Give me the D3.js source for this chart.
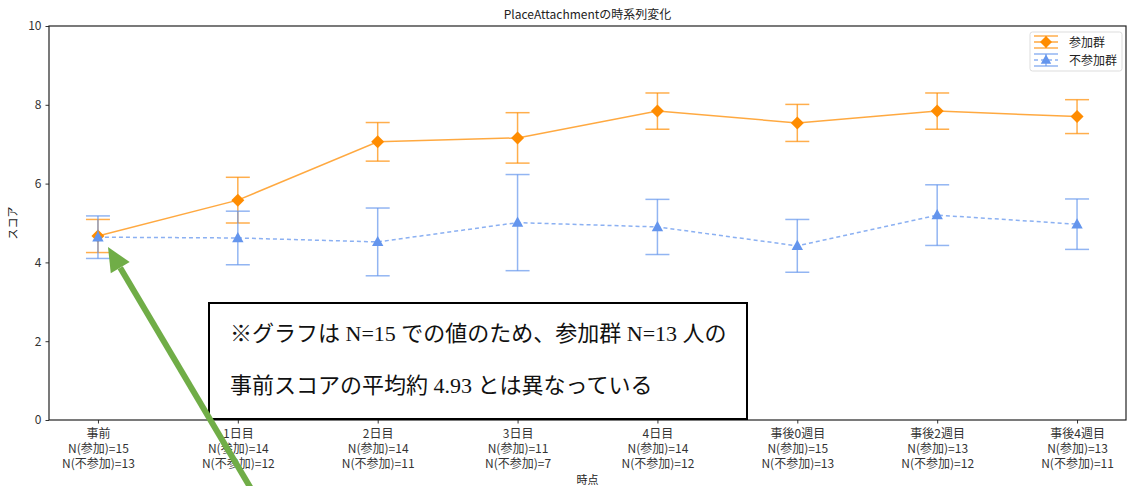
<!DOCTYPE html>
<html>
<head>
<meta charset="utf-8">
<script src="https://cdn.jsdelivr.net/npm/d3@7"></script>
<style>
  html, body { margin: 0; padding: 0; background: #fff; }
  svg { display: block; }
  text { font-family: "Noto Sans CJK JP", "Noto Sans", sans-serif; }
</style>
</head>
<body>
<svg id="chart" width="1127" height="486"></svg>
<script>
// Time points and group sizes shown under each tick
const timepoints = ["事前", "1日目", "2日目", "3日目", "4日目", "事後0週目", "事後2週目", "事後4週目"];
const nJoin = [15, 14, 14, 11, 14, 15, 13, 13];
const nNon  = [13, 12, 11, 7, 12, 13, 12, 11];

// Mean PlaceAttachment score and error (±) per group
const joinMean = [4.67, 5.58, 7.06, 7.16, 7.84, 7.54, 7.84, 7.70];
const joinErr  = [0.42, 0.58, 0.49, 0.64, 0.46, 0.47, 0.46, 0.43];
const nonMean  = [4.64, 4.62, 4.52, 5.01, 4.90, 4.42, 5.20, 4.97];
const nonErr   = [0.54, 0.68, 0.86, 1.22, 0.70, 0.67, 0.77, 0.64];

const yTicks = [0, 2, 4, 6, 8, 10];
const seriesNames = ["参加群", "不参加群"];

const noteLines = [
  "※グラフは N=15 での値のため、参加群 N=13 人の",
  "事前スコアの平均約 4.93 とは異なっている"
];

const svg = d3.select("#chart");
const margin = { left: 49, right: 1126, top: 26, bottom: 420 };

const x = d3.scaleLinear().domain([-0.35, timepoints.length - 1 + 0.35]).range([margin.left, margin.right]);
const y = d3.scaleLinear().domain([0, 10]).range([margin.bottom, margin.top]);

const ORANGE = "#ff8c00";
const BLUE = "#6495ed";

// Title
svg.append("text")
  .attr("x", (margin.left + margin.right) / 2).attr("y", 19)
  .attr("text-anchor", "middle").attr("font-size", 12).attr("fill", "#222")
  .text("PlaceAttachmentの時系列変化");

// Y axis
const yAxis = d3.axisLeft(y).tickValues(yTicks).tickSize(3.5).tickPadding(4).tickFormat(d3.format("d"));
const gy = svg.append("g").attr("transform", `translate(${margin.left},0)`).call(yAxis);
gy.select(".domain").remove();
gy.selectAll("text").attr("font-size", 12).attr("fill", "#333");
gy.selectAll("line").attr("stroke", "#333");

// X axis with multi-line tick labels
const xAxis = d3.axisBottom(x).tickValues(d3.range(timepoints.length)).tickSize(3.5).tickFormat("");
const gx = svg.append("g").attr("transform", `translate(0,${margin.bottom})`).call(xAxis);
gx.select(".domain").remove();
gx.selectAll("line").attr("stroke", "#333");
gx.selectAll(".tick").each(function(d) {
  const t = d3.select(this).append("text")
    .attr("text-anchor", "middle").attr("font-size", 12).attr("fill", "#333");
  const lines = [timepoints[d], `N(参加)=${nJoin[d]}`, `N(不参加)=${nNon[d]}`];
  lines.forEach((s, i) => t.append("tspan").attr("x", 0).attr("y", 18 + i * 15).text(s));
});

// Axis titles
svg.append("text")
  .attr("x", (margin.left + margin.right) / 2).attr("y", 484)
  .attr("text-anchor", "middle").attr("font-size", 11).attr("fill", "#222")
  .text("時点");
svg.append("text")
  .attr("transform", `translate(17,${(margin.top + margin.bottom) / 2}) rotate(-90)`)
  .attr("text-anchor", "middle").attr("font-size", 11).attr("fill", "#222")
  .text("スコア");

// Plot frame
svg.append("rect")
  .attr("x", margin.left).attr("y", margin.top)
  .attr("width", margin.right - margin.left).attr("height", margin.bottom - margin.top)
  .attr("fill", "none").attr("stroke", "#222").attr("stroke-width", 1.2);

const diamond = r => `M0,${-r}L${r},0L0,${r}L${-r},0Z`;
const triangle = r => `M0,${-r}L${r * 0.95},${r * 0.7}L${-r * 0.95},${r * 0.7}Z`;

function drawSeries(means, errs, color, dash, markerPath) {
  const g = svg.append("g");
  const line = d3.line().x((d, i) => x(i)).y(d => y(d));
  g.append("path").datum(means)
    .attr("d", line).attr("fill", "none")
    .attr("stroke", color).attr("stroke-opacity", 0.75).attr("stroke-width", 1.5)
    .attr("stroke-dasharray", dash);
  const eb = g.selectAll(".eb").data(means).join("g");
  eb.append("line")
    .attr("x1", (d, i) => x(i)).attr("x2", (d, i) => x(i))
    .attr("y1", (d, i) => y(d + errs[i])).attr("y2", (d, i) => y(d - errs[i]))
    .attr("stroke", color).attr("stroke-opacity", 0.7).attr("stroke-width", 1.5);
  [1, -1].forEach(s => {
    eb.append("line")
      .attr("x1", (d, i) => x(i) - 12).attr("x2", (d, i) => x(i) + 12)
      .attr("y1", (d, i) => y(d + s * errs[i])).attr("y2", (d, i) => y(d + s * errs[i]))
      .attr("stroke", color).attr("stroke-opacity", 0.7).attr("stroke-width", 1.5);
  });
  g.selectAll(".mk").data(means).join("path")
    .attr("transform", (d, i) => `translate(${x(i)},${y(d)})`)
    .attr("d", markerPath).attr("fill", color);
}

drawSeries(joinMean, joinErr, ORANGE, null, diamond(6.5));
drawSeries(nonMean, nonErr, BLUE, "4,3", triangle(6));

// Legend
const lg = svg.append("g").attr("transform", "translate(1030,32)");
lg.append("rect").attr("width", 92).attr("height", 39).attr("rx", 2.5)
  .attr("fill", "#fff").attr("fill-opacity", 0.8).attr("stroke", "#ddd");
const legendItems = [
  { name: seriesNames[0], color: ORANGE, dash: null, marker: diamond(6) },
  { name: seriesNames[1], color: BLUE, dash: "4,3", marker: triangle(5.5) }
];
legendItems.forEach((it, i) => {
  const cy = 10 + i * 18;
  const row = lg.append("g").attr("transform", `translate(0,${cy})`);
  [-6, 6].forEach(dy => row.append("line")
    .attr("x1", 4).attr("x2", 28).attr("y1", dy).attr("y2", dy)
    .attr("stroke", it.color).attr("stroke-opacity", 0.7).attr("stroke-width", 1.5));
  row.append("line").attr("x1", 4).attr("x2", 28).attr("y1", 0).attr("y2", 0)
    .attr("stroke", it.color).attr("stroke-opacity", 0.75).attr("stroke-width", 1.5)
    .attr("stroke-dasharray", it.dash);
  row.append("line").attr("x1", 16).attr("x2", 16).attr("y1", -6).attr("y2", 6)
    .attr("stroke", it.color).attr("stroke-opacity", 0.7).attr("stroke-width", 1.5);
  row.append("path").attr("transform", "translate(16,0)").attr("d", it.marker).attr("fill", it.color);
  row.append("text").attr("x", 39).attr("y", 4.5).attr("font-size", 12).attr("fill", "#222").text(it.name);
});

// Note box
const note = svg.append("g");
note.append("rect").attr("x", 209).attr("y", 303).attr("width", 538).attr("height", 116)
  .attr("fill", "#fff").attr("stroke", "#000").attr("stroke-width", 2);
noteLines.forEach((s, i) => {
  note.append("text").attr("x", 230).attr("y", 341 + i * 52)
    .attr("font-size", 22).attr("fill", "#111")
    .style("font-family", '"Liberation Serif", "Noto Sans CJK JP", serif')
    .text(s);
});

// Arrow pointing at the pre-test point
const tip = [108, 247], tail = [253, 492];
const dx = tip[0] - tail[0], dy = tip[1] - tail[1];
const len = Math.hypot(dx, dy), ux = dx / len, uy = dy / len;
const headLen = 24, headHalf = 11;
const base = [tip[0] - ux * headLen, tip[1] - uy * headLen];
svg.append("line")
  .attr("x1", tail[0]).attr("y1", tail[1]).attr("x2", base[0]).attr("y2", base[1])
  .attr("stroke", "#70ad47").attr("stroke-width", 6);
svg.append("path")
  .attr("d", `M${tip[0]},${tip[1]}L${base[0] - uy * headHalf},${base[1] + ux * headHalf}L${base[0] + uy * headHalf},${base[1] - ux * headHalf}Z`)
  .attr("fill", "#70ad47");
</script>
</body>
</html>
